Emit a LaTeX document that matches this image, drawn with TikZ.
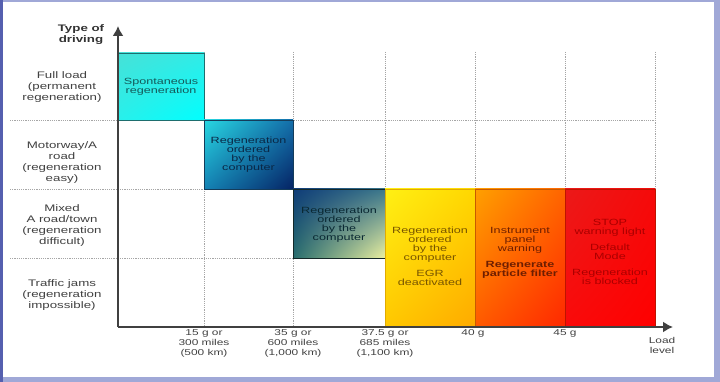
\documentclass[tikz,border=0pt]{standalone}
\usepackage{fontspec}
\setmainfont{Liberation Sans}[FakeStretch=1.4]
\usepackage{tikz}
\usetikzlibrary{arrows.meta,shadings}

\definecolor{framelight}{RGB}{160,168,215}
\definecolor{framedark}{RGB}{85,95,175}
\definecolor{labelgray}{RGB}{65,65,65}

\begin{document}
\begin{tikzpicture}[x=1pt,y=-1pt,
  grid/.style={gray!70,line width=0.6pt,dash pattern=on 1.2pt off 1pt},
  axis/.style={black!75,line width=1.8pt,-{Latex[length=10pt,width=11pt]}},
  rowlabel/.style={align=center,text=labelgray,font=\fontsize{9.5}{11}\selectfont},
  ticklabel/.style={align=center,text=labelgray,font=\fontsize{8.5}{10}\selectfont},
  zone/.style={anchor=north west,inner sep=0pt,outer sep=0pt,line width=0.7pt,shade},
  zonetext/.style={align=center,font=\fontsize{9}{9}\selectfont}]
\useasboundingbox (0,0) rectangle (720,382);

% frame
\fill[framelight] (0,0) rectangle (720,382);
\fill[framedark] (0,0) rectangle (3,382);
\fill[white] (3,2) rectangle (714,377);

% grid
\foreach \y in {120,189,258}{
  \draw[grid] (10,\y)--(655,\y);
};
\foreach \x in {204,293,385,475,565,655}{
  \draw[grid] (\x,52)--(\x,327);
};

% zones
\node[zone,minimum width=86pt,minimum height=67pt,draw={rgb,255:red,30;green,110;blue,110},
  upper left={rgb,255:red,70;green,225;blue,215},upper right={rgb,255:red,50;green,235;blue,230},
  lower left={rgb,255:red,40;green,240;blue,235},lower right={rgb,255:red,0;green,255;blue,255}]
  (spont) at (118,53) {};
\node[zone,minimum width=89pt,minimum height=69pt,draw={rgb,255:red,20;green,60;blue,90},
  upper left={rgb,255:red,40;green,215;blue,225},upper right={rgb,255:red,20;green,110;blue,170},
  lower left={rgb,255:red,20;green,130;blue,180},lower right={rgb,255:red,5;green,35;blue,100}]
  (ordered) at (204,120) {};
\node[zone,minimum width=92pt,minimum height=69pt,draw={rgb,255:red,20;green,40;blue,40},
  upper left={rgb,255:red,15;green,60;blue,120},upper right={rgb,255:red,60;green,120;blue,140},
  lower left={rgb,255:red,40;green,110;blue,110},lower right={rgb,255:red,235;green,240;blue,160}]
  (mixedzone) at (293,189) {};
\node[zone,minimum width=90pt,minimum height=138pt,draw={rgb,255:red,225;green,170;blue,0},
  upper left={rgb,255:red,255;green,240;blue,20},upper right={rgb,255:red,255;green,215;blue,0},
  lower left={rgb,255:red,255;green,200;blue,0},lower right={rgb,255:red,255;green,170;blue,0}]
  (egr) at (385,189) {};
\node[zone,minimum width=90pt,minimum height=138pt,draw={rgb,255:red,200;green,90;blue,0},
  upper left={rgb,255:red,255;green,160;blue,0},upper right={rgb,255:red,255;green,100;blue,0},
  lower left={rgb,255:red,255;green,90;blue,0},lower right={rgb,255:red,255;green,40;blue,0}]
  (warning) at (475,189) {};
\node[zone,minimum width=90pt,minimum height=138pt,draw={rgb,255:red,190;green,20;blue,0},
  upper left={rgb,255:red,235;green,25;blue,25},upper right={rgb,255:red,245;green,10;blue,10},
  lower left={rgb,255:red,250;green,10;blue,10},lower right={rgb,255:red,255;green,0;blue,0}]
  (stop) at (565,189) {};

% zone texts
\node[zonetext,text={rgb,255:red,20;green,90;blue,90}] (spont-t) at (spont.center) {Spontaneous\\regeneration};
\node[zonetext,text={rgb,255:red,10;green,40;blue,70}] (ordered-t) at (ordered.center) {Regeneration\\ordered\\by the\\computer};
\node[zonetext,text={rgb,255:red,10;green,40;blue,50},yshift=-1pt] (mixedzone-t) at (mixedzone.center) {Regeneration\\ordered\\by the\\computer};
\node[zonetext,text={rgb,255:red,120;green,85;blue,0},yshift=1.5pt] (egr-t) at (egr.center) {Regeneration\\ordered\\by the\\computer\\[7pt]EGR\\deactivated};
\node[zonetext,text={rgb,255:red,110;green,30;blue,0},yshift=5.5pt] (warning-t) at (warning.center) {Instrument\\panel\\warning\\[7pt]\textbf{Regenerate}\\\textbf{particle filter}};
\node[zonetext,text={rgb,255:red,170;green,0;blue,0},yshift=6pt] (stop-t) at (stop.center) {STOP\\warning light\\[7pt]Default\\Mode\\[7pt]Regeneration\\is blocked};

% axes
\coordinate (origin) at (118,327);
\coordinate (ytip) at (118,26);
\coordinate (xtip) at (673,327);
\draw[axis] (origin)--(ytip);
\draw[axis] (origin)--(xtip);

% row labels
\node[rowlabel,font=\fontsize{9.5}{11}\bfseries,text=black!80] (ytitle) at (81,35) {Type of\\driving};
\node[rowlabel] (full) at (62,87.5) {Full load\\(permanent\\regeneration)};
\node[rowlabel] (motorway) at (62,163) {Motorway/A\\road\\(regeneration\\easy)};
\node[rowlabel] (mixed) at (62,225.5) {Mixed\\A road/town\\(regeneration\\difficult)};
\node[rowlabel] (jams) at (62,295) {Traffic jams\\(regeneration\\impossible)};

% load levels
\node[ticklabel] (t15) at (204,343) {15 g or\\300 miles\\(500 km)};
\node[ticklabel] (t35) at (293,343) {35 g or\\600 miles\\(1,000 km)};
\node[ticklabel] (t37) at (385,343) {37.5 g or\\685 miles\\(1,100 km)};
\node[ticklabel] (t40) at (473,333) {40 g};
\node[ticklabel] (t45) at (565,333) {45 g};
\node[ticklabel] (xtitle) at (662,345) {Load\\level};

\end{tikzpicture}
\end{document}
